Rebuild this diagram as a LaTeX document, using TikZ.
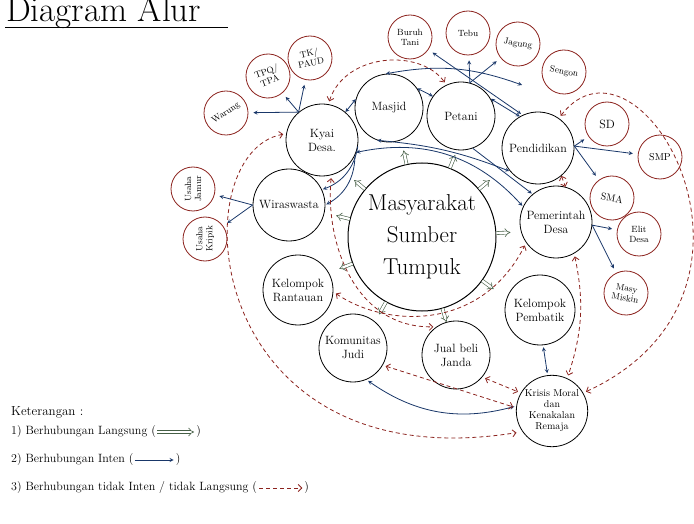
\documentclass[tikz,border=0pt]{standalone}
\usepackage{tikz}
\usetikzlibrary{arrows.meta, positioning}
\definecolor{lineRed}{RGB}{140,35,30}
\definecolor{lineBlue}{RGB}{25,55,105}
\definecolor{lineGreen}{RGB}{70,95,70}

\begin{document}
\begin{tikzpicture}[x=1pt, y=1pt, >=stealth,
    pokok/.style={circle, draw, thick, minimum size=72pt, inner sep=1pt, align=center, font=\fontsize{12}{14}\selectfont},
    cabang/.style={circle, draw=lineRed, thick, minimum size=44pt, inner sep=1pt, align=center, font=\fontsize{9}{10}\selectfont},
    langsung/.style={draw=lineGreen, line width=0.6pt, double=white, double distance=2.4pt, -{Implies}},
    inten/.style={draw=lineBlue, thick, ->, shorten >=5pt},
    tidak/.style={draw=lineRed, thick, dash pattern=on 4pt off 3pt, >={Straight Barb[length=3.5pt]}, shorten >=3pt, shorten <=3pt},
    ket/.style={anchor=west, inner sep=1pt, font=\fontsize{12}{14}\selectfont}]
    \useasboundingbox (0,0) rectangle (694,523);
    \fill[white] (0,0) rectangle (694,523);

    % judul
    \node[anchor=base west, inner sep=0pt, font=\fontsize{35}{35}\selectfont] (judul) at (6,501) {Diagram Alur};
    \draw[thick] (5,496) -- (228,496);

    % lingkaran utama
    \node[pokok, minimum size=148pt, line width=1pt, font=\fontsize{23}{32}\selectfont] (pusat) at (422,286) {Masyarakat\\Sumber\\Tumpuk};
    \node[pokok] (kyai) at (322,383) {Kyai\\Desa.};
    \node[pokok, minimum size=68pt] (masjid) at (389,415) {Masjid};
    \node[pokok, minimum size=68pt] (petani) at (461,407) {Petani};
    \node[pokok] (pendidikan) at (538,375) {Pendidikan};
    \node[pokok] (pemerintah) at (556,301) {Pemerintah\\Desa};
    \node[pokok] (wiraswasta) at (289,318) {Wiraswasta};
    \node[pokok, minimum size=70pt] (rantauan) at (298,233) {Kelompok\\Rantauan};
    \node[pokok, minimum size=70pt] (pembatik) at (540,213) {Kelompok\\Pembatik};
    \node[pokok, minimum size=68pt] (judi) at (353,175) {Komunitas\\Judi};
    \node[pokok, minimum size=68pt] (janda) at (456,168) {Jual beli\\Janda};
    \node[pokok, minimum size=70pt, font=\fontsize{10}{11}\selectfont] (krisis) at (552,112) {Krisis Moral\\dan\\Kenakalan\\Remaja};

    % lingkaran cabang
    \node[cabang, rotate=35] (warung) at (226,410) {Warung};
    \node[cabang, rotate=20] (tpq) at (268,447) {TPQ/\\TPA};
    \node[cabang, rotate=12] (tk) at (310,465) {TK/\\PAUD};
    \node[cabang] (buruh) at (410,486) {Buruh\\Tani};
    \node[cabang] (tebu) at (468,490) {Tebu};
    \node[cabang, rotate=-10] (jagung) at (518,479) {Jagung};
    \node[cabang, rotate=-10] (sengon) at (564,451) {Sengon};
    \node[cabang, font=\fontsize{12}{13}\selectfont] (sd) at (607,399) {SD};
    \node[cabang, font=\fontsize{10}{11}\selectfont] (smp) at (660,366) {SMP};
    \node[cabang, rotate=-10, font=\fontsize{10}{11}\selectfont] (sma) at (612,325) {SMA};
    \node[cabang] (elit) at (639,289) {Elit\\Desa};
    \node[cabang, rotate=-10] (miskin) at (626,230) {Masy\\Miskin};
    \node[cabang, rotate=90] (jamur) at (193,334) {Usaha\\Jamur};
    \node[cabang, rotate=90] (kripik) at (205,284) {Usaha\\Kripik};

    % hubungan langsung
    \foreach \a in {140,102,68,40,3,-36,-74,-119,-159,166}
        \draw[langsung] (pusat.\a) -- +(\a:14);

    % hubungan inten
    \draw[inten] (kyai.130) -- (warung);
    \draw[inten] (kyai.130) -- (tpq);
    \draw[inten] (kyai.130) -- (tk);
    \draw[inten, <->, shorten >=0pt] (kyai.50) -- (masjid.165);
    \draw[inten, <->, shorten >=0pt] (masjid.35) -- (petani.145);
    \draw[inten, <->, shorten >=0pt] (petani.30) -- (pendidikan.120);
    \draw[inten] (petani.75) -- (tebu);
    \draw[inten] (petani.75) -- (jagung);
    \draw[inten, <->, shorten <=5pt, shorten >=2pt] (buruh) -- (pendidikan.115);
    \coordinate (ujungbusur) at (522,438);
    \draw[inten, <->, shorten >=0pt] (masjid.95) to[bend left=15] (ujungbusur);
    \draw[inten] (pendidikan.3) -- (sd);
    \draw[inten] (pendidikan.3) -- (smp);
    \draw[inten] (pendidikan.3) -- (sma);
    \draw[inten] (pemerintah.-5) -- (elit);
    \draw[inten] (pemerintah.-5) -- (miskin);
    \draw[inten] (wiraswasta.180) -- (jamur);
    \draw[inten] (wiraswasta.180) -- (kripik);
    \draw[inten, shorten >=1pt] (kyai.-10) to[bend left=30] (wiraswasta.25);
    \draw[inten, shorten >=1pt] (kyai.-25) to[bend left=30] (wiraswasta.0);
    \draw[inten, <->, shorten >=1pt] (kyai.-20) to[bend left=30] (pemerintah.155);
    \draw[inten, <->, shorten >=1pt] (masjid.-110) to[bend left=8] (pendidikan.-140);
    \draw[inten, shorten >=1pt] (petani.-70) -- (pemerintah.130);
    \draw[inten, <->, shorten <=2pt, shorten >=2pt] (pembatik.-85) -- (krisis.97);
    \draw[inten, <->, shorten <=2pt, shorten >=2pt] (judi.-67) to[bend right=25] (krisis.172);

    % hubungan tidak inten / tidak langsung
    \draw[tidak, <->] (kyai.80) .. controls (345,470) and (420,475) .. (petani.115);
    \draw[tidak, <->] (pendidikan.55) .. controls (640,510) and (800,230) .. (krisis.30);
    \draw[tidak, <->, shorten <=0pt, shorten >=0pt] (pendidikan.-50) -- (pemerintah.75);
    \draw[tidak, <->] (pemerintah.-60) to[bend left=15] (krisis.65);
    \draw[tidak, <->, shorten >=6pt] (kyai.170) .. controls (180,370) and (200,40) .. (krisis.-145);
    \draw[tidak, <->] (judi.-30) -- (krisis.175);
    \draw[tidak, <->] (janda.-40) -- (krisis.150);
    \draw[tidak, <->] (kyai.-75) .. controls (325,280) and (355,195) .. (janda.125);
    \draw[tidak, <->] (rantauan.-3) .. controls (385,196) and (480,190) .. (pemerintah.-145);

    % keterangan
    \node[ket, font=\fontsize{13}{15}\selectfont] (keterangan) at (10,111) {Keterangan :};
    \node[ket] (leg1) at (10,91) {1) Berhubungan Langsung (};
    \node[ket, right=38pt of leg1] (leg1b) {)};
    \draw[langsung, shorten >=1pt] (leg1.east) -- (leg1b.west);
    \node[ket] (leg2) at (10,63) {2) Berhubungan Inten (};
    \node[ket, right=40pt of leg2] (leg2b) {)};
    \draw[inten, shorten >=1pt] (leg2.east) -- (leg2b.west);
    \node[ket] (leg3) at (10,35) {3) Berhubungan tidak Inten / tidak Langsung (};
    \node[ket, right=45pt of leg3] (leg3b) {)};
    \draw[tidak, ->, shorten <=1pt, shorten >=1pt] (leg3.east) -- (leg3b.west);
\end{tikzpicture}
\end{document}
